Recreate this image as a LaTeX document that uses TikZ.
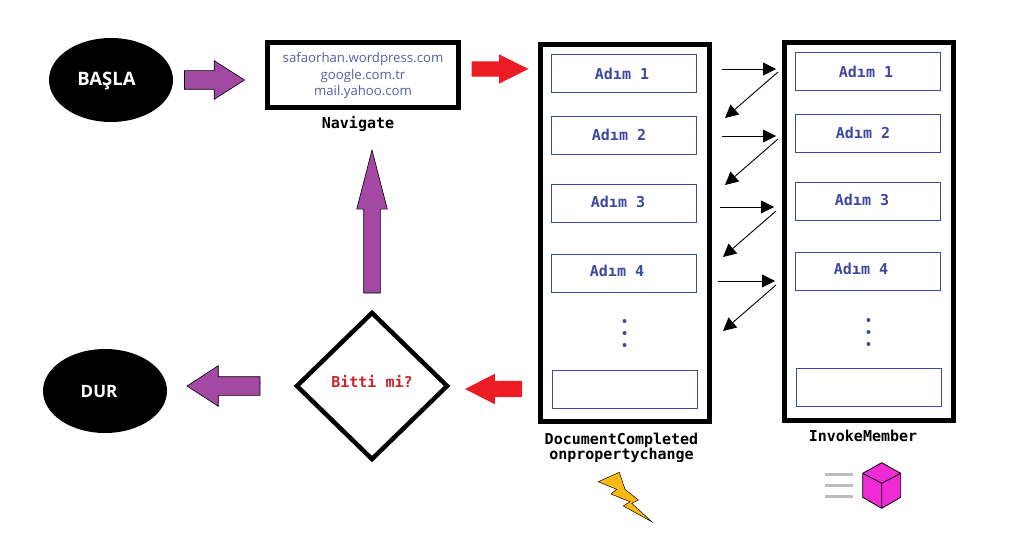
\documentclass[tikz,border=0pt]{standalone}
\usepackage{fontspec}
\setmainfont{Open Sans}
\newfontfamily\monob[Scale=1.0]{DejaVu Sans Mono Bold}
\usetikzlibrary{shapes.geometric,shapes.arrows,arrows.meta}
\definecolor{stepblue}{HTML}{3F48A0}
\definecolor{urlblue}{HTML}{5A5FA5}
\definecolor{blockpurple}{HTML}{A349A4}
\definecolor{blockred}{HTML}{ED1C24}
\definecolor{boltyellow}{HTML}{FDB913}
\definecolor{cubepink}{HTML}{EE2BD5}
\definecolor{bargray}{HTML}{BDBDBD}
\definecolor{decisionred}{HTML}{C8242C}
\tikzset{
  x=1pt,y=-1pt,
  terminal/.style={ellipse,fill=black,inner sep=0pt,minimum width=124pt,minimum height=84pt},
  termtext/.style={text=white,inner sep=0pt,font=\fontsize{#1}{20}\selectfont\bfseries},
  frame/.style={draw=black,line width=5pt,inner sep=0pt,outer sep=0pt},
  stepbox/.style={draw=stepblue,line width=0.9pt,minimum width=145.5pt,minimum height=38pt,inner sep=0pt,outer sep=0pt},
  steptext/.style={text=stepblue,inner sep=0pt,font=\fontsize{15}{16}\monob},
  caption/.style={text=black,inner sep=0pt,align=center,font=\fontsize{15}{15}\monob},
  blockarrow/.style={single arrow,outer sep=0pt,minimum height=#1,single arrow head indent=0pt,anchor=tail},
  purplearrow/.style={blockarrow=#1,fill=blockpurple,draw=black,line width=0.6pt},
  redarrow/.style={blockarrow=#1,fill=blockred},
  thin arrow/.style={-{Stealth[length=13pt,width=13pt,inset=0pt]},line width=0.9pt,black},
  vdot/.style={circle,fill=stepblue,inner sep=0pt,minimum size=4pt}
}
\begin{document}
\begin{tikzpicture}
\useasboundingbox (0,0) rectangle (1022,548);
\fill[white] (0,0) rectangle (1022,548);
% terminals
\node[terminal] (start) at (111,80) {};
\node[terminal] (stop) at (105,391) {};
\node[termtext=18.5] (starttext) at (106.5,81) {BAŞLA};
\node[termtext=17] (stoptext) at (99,392) {DUR};
% navigate
\node[frame,minimum width=191pt,minimum height=65pt] (nav) at (363,75) {};
\node[text=urlblue,inner sep=0pt,align=center,font=\fontsize{13.2}{16.5}\selectfont] (urls) at (363,76) {safaorhan.wordpress.com\\google.com.tr\\mail.yahoo.com};
\node[caption] (navcap) at (358,124) {Navigate};
% columns
\node[frame,minimum width=169pt,minimum height=377pt] (left) at (625,233) {};
\node[frame,minimum width=169pt,minimum height=378pt] (right) at (869,231.5) {};
% left steps
\node[stepbox] (l1) at (623.7,73) {};
\node[stepbox] (l2) at (623.7,135) {};
\node[stepbox] (l3) at (623.7,203) {};
\node[stepbox] (l4) at (623.7,273) {};
\node[stepbox] (l5) at (624.7,389.5) {};
\node[steptext] at (622,73.5) {Adım 1};
\node[steptext] at (619,134.5) {Adım 2};
\node[steptext] at (618,201.5) {Adım 3};
\node[steptext] at (617,270.5) {Adım 4};
% right steps
\node[stepbox] (r1) at (867.7,71) {};
\node[stepbox] (r2) at (867.7,133) {};
\node[stepbox] (r3) at (867.7,201) {};
\node[stepbox] (r4) at (867.7,271) {};
\node[stepbox] (r5) at (868.7,387.5) {};
\node[steptext] at (866,71.5) {Adım 1};
\node[steptext] at (863,132.5) {Adım 2};
\node[steptext] at (862,199.5) {Adım 3};
\node[steptext] at (861,268.5) {Adım 4};
% dots
\foreach \i/\y in {1/321,2/333,3/345} \node[vdot] (ld\i) at (624.5,\y) {};
\foreach \i/\y in {1/320,2/332,3/344} \node[vdot] (rd\i) at (868.5,\y) {};
% captions
\node[caption] (doccap) at (621.5,447.5) {DocumentCompleted\\onpropertychange};
\node[caption] (invcap) at (863,435.5) {InvokeMember};
% decision
\node[diamond,draw=black,line width=4.5pt,minimum width=152pt,minimum height=148pt,inner sep=0pt] (dec) at (372,386) {};
\node[text=decisionred,inner sep=0pt,font=\fontsize{15}{16}\monob] (dectext) at (372,381) {Bitti mi?};
% block arrows
\node[purplearrow=60pt,inner sep=9pt,single arrow head extend=10pt,single arrow tip angle=65] (a1) at (184.5,80) {};
\node[redarrow=57pt,inner sep=7.5pt,single arrow head extend=7pt,single arrow tip angle=53] (a2) at (471.5,69) {};
\node[purplearrow=143pt,inner sep=8pt,single arrow head extend=7pt,single arrow tip angle=29,rotate=90] (a3) at (372,293) {};
\node[redarrow=57pt,inner sep=8pt,single arrow head extend=7pt,single arrow tip angle=54,rotate=180] (a4) at (522,389) {};
\node[purplearrow=73pt,inner sep=9pt,single arrow head extend=11pt,single arrow tip angle=66,rotate=180] (a5) at (260,386) {};
% thin arrows
\foreach \n/\ax/\ay/\bx/\by/\cx/\cy/\dx/\dy in {
  1/722/69/776/69/778/72/725/118,
  2/722/136/776/136/778/139/725/185,
  3/720/207/774/207/776/211/723/257,
  4/718/281/775/281/776/285/723/331}{
  \coordinate (f\n) at (\ax,\ay);
  \coordinate (g\n) at (\bx,\by);
  \coordinate (h\n) at (\cx,\cy);
  \coordinate (k\n) at (\dx,\dy);
  \draw[thin arrow] (f\n) -- (g\n);
  \draw[thin arrow] (h\n) -- (k\n);
}
% lightning
\filldraw[fill=boltyellow,draw=black,line width=0.5pt,line join=miter]
 (598.3,481.7) -- (619.3,472.3) -- (625,489.3) -- (638.3,500) -- (631.7,503.3) -- (651.7,521.7) -- (623.3,506) -- (630,501.7) -- (611,494) -- (616.7,489.3) -- cycle;
% gray bars
\foreach \y in {474,485,496.3} \draw[bargray,line width=3pt] (825,\y) -- (852.7,\y);
% cube
\filldraw[fill=cubepink,draw=black,line width=0.8pt]
 (881.7,462.7) -- (900.7,473.3) -- (900.7,497.3) -- (881.7,508.3) -- (862.7,497.3) -- (862.7,473.3) -- cycle;
\draw[black,line width=0.8pt] (862.7,473.3) -- (881.7,483.3) -- (900.7,473.3) (881.7,483.3) -- (881.7,508.3);
\end{tikzpicture}
\end{document}
